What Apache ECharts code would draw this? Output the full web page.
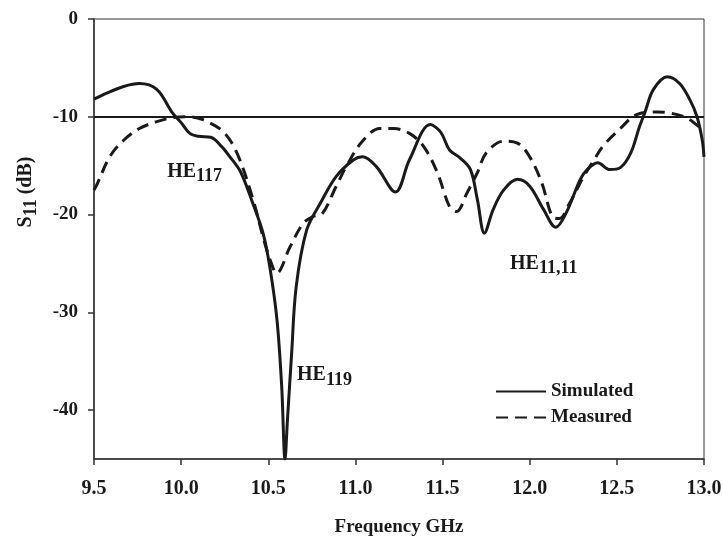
<!DOCTYPE html>
<html>
<head>
<meta charset="utf-8">
<script src="https://cdn.jsdelivr.net/npm/echarts@6/dist/echarts.min.js"></script>
<style>
  html, body { margin: 0; padding: 0; background: #fff; }
  #chart { width: 723px; height: 539px; }
</style>
</head>
<body>
<div id="chart"></div>
<script>
// values
const freqSim = [9.50, 9.57, 9.67, 9.76, 9.86, 9.95, 10.00, 10.05, 10.10, 10.17, 10.23, 10.28, 10.34, 10.41, 10.47, 10.51, 10.55, 10.577, 10.596, 10.61, 10.634, 10.66, 10.72, 10.80, 10.89, 10.99, 11.04, 11.12, 11.23, 11.31, 11.43, 11.49, 11.54, 11.60, 11.66, 11.70, 11.74, 11.79, 11.85, 11.93, 12.00, 12.08, 12.15, 12.21, 12.29, 12.33, 12.39, 12.46, 12.52, 12.58, 12.63, 12.66, 12.71, 12.79, 12.86, 12.92, 12.96, 12.99, 13.00];
const s11Sim = [-8.2, -7.6, -6.9, -6.6, -7.2, -9.6, -10.6, -11.7, -12.0, -12.1, -13.0, -14.1, -15.6, -18.8, -21.9, -25.5, -30.8, -37.6, -45, -41, -34.2, -27.4, -21.6, -18.8, -16.1, -14.4, -14.1, -15.1, -17.7, -14.4, -10.8, -11.6, -13.4, -14.2, -15.4, -18.5, -21.9, -19.5, -17.5, -16.4, -17.1, -19.5, -21.3, -19.8, -16.4, -15.4, -14.7, -15.4, -15.2, -13.7, -11.0, -9.6, -7.2, -5.9, -6.6, -8.3, -10.0, -12.4, -14.1];

const freqMeas = [9.50, 9.52, 9.59, 9.67, 9.76, 9.86, 9.95, 10.05, 10.125, 10.24, 10.32, 10.41, 10.47, 10.51, 10.548, 10.625, 10.70, 10.757, 10.81, 10.89, 10.95, 11.04, 11.14, 11.22, 11.31, 11.39, 11.47, 11.54, 11.58, 11.64, 11.70, 11.75, 11.85, 11.93, 12.00, 12.07, 12.13, 12.17, 12.23, 12.31, 12.37, 12.42, 12.52, 12.61, 12.73, 12.80, 12.90, 12.97, 13.00];
const s11Meas = [-17.5, -16.8, -14.1, -12.4, -11.2, -10.5, -10.1, -10.0, -10.3, -11.5, -13.7, -18.3, -22.3, -24.6, -26.0, -23.3, -20.9, -20.2, -19.9, -17.1, -15.0, -12.5, -11.2, -11.2, -11.7, -13.0, -15.7, -19.2, -19.7, -17.8, -15.7, -13.7, -12.5, -12.7, -14.1, -16.8, -20.2, -20.4, -18.8, -16.1, -14.4, -13.0, -11.2, -9.8, -9.5, -9.6, -10.1, -11.0, -11.3];

const yTicks = [0, -10, -20, -30, -40];
const threshold = -10;

// mode labels: [main, subscript, freq, dB]
const modeLabels = [
  ['HE', '117', 9.92, -15.6],
  ['HE', '119', 10.665, -36.4],
  ['HE', '11,11', 11.887, -25.0]
];

const FONT = '"Liberation Serif", "Times New Roman", serif';
const INK = '#1a1a1a';
const AXIS = '#333';

const chart = echarts.init(document.getElementById('chart'));

const zip = (xs, ys) => xs.map((x, i) => [x, ys[i]]);

const option = {
  animation: false,
  grid: {
    left: 94, right: 19, top: 19, bottom: 80,
    outerBoundsMode: 'none',
    show: true, borderColor: AXIS, borderWidth: 1
  },
  legend: {
    orient: 'vertical',
    left: 490, top: 377,
    itemWidth: 50, itemHeight: 14, itemGap: 7,
    itemStyle: { opacity: 0 },
    textStyle: { fontFamily: FONT, fontWeight: 'bold', fontSize: 19, color: INK },
    data: ['Simulated', 'Measured']
  },
  xAxis: {
    type: 'value',
    min: 9.5, max: 13, interval: 0.5,
    name: 'Frequency GHz',
    nameLocation: 'middle',
    nameGap: 59,
    nameTextStyle: { fontFamily: FONT, fontWeight: 'bold', fontSize: 19, color: INK },
    axisLine: { onZero: false, lineStyle: { color: AXIS, width: 1.5 } },
    axisTick: { show: true, length: 6, lineStyle: { color: AXIS, width: 1.5 } },
    axisLabel: {
      margin: 20,
      formatter: v => v.toFixed(1),
      fontFamily: FONT, fontWeight: 'bold', fontSize: 20, color: INK
    },
    splitLine: { show: false }
  },
  yAxis: {
    type: 'value',
    min: -45, max: 0,
    axisLine: { show: true, onZero: false, lineStyle: { color: AXIS, width: 1.5 } },
    axisTick: { show: true, length: 6, customValues: yTicks, lineStyle: { color: AXIS, width: 1.5 } },
    axisLabel: {
      customValues: yTicks,
      margin: 16,
      fontFamily: FONT, fontWeight: 'bold', fontSize: 19, color: INK
    },
    splitLine: { show: false }
  },
  series: [
    {
      name: 'Simulated',
      type: 'line',
      data: zip(freqSim, s11Sim),
      symbol: 'none',
      smooth: 0.35,
      lineStyle: { color: INK, width: 3 },
      itemStyle: { color: INK },
      markLine: {
        silent: true,
        symbol: 'none',
        label: { show: false },
        lineStyle: { color: INK, width: 2, type: 'solid' },
        data: [{ yAxis: threshold }]
      }
    },
    {
      name: 'Measured',
      type: 'line',
      data: zip(freqMeas, s11Meas),
      symbol: 'none',
      smooth: 0.35,
      lineStyle: { color: INK, width: 3, type: [12, 7] },
      itemStyle: { color: INK }
    }
  ]
};

chart.setOption(option);

// text annotations placed at data coordinates
const richText = {
  m: { fontFamily: FONT, fontWeight: 'bold', fontSize: 20, fill: INK },
  s: { fontFamily: FONT, fontWeight: 'bold', fontSize: 18, fill: INK, padding: [10, 0, 0, 0] }
};
const graphics = modeLabels.map(([main, sub, f, db]) => {
  const p = chart.convertToPixel({ gridIndex: 0 }, [f, db]);
  return {
    type: 'text',
    x: p[0], y: p[1],
    style: {
      text: '{m|' + main + '}{s|' + sub + '}',
      rich: richText,
      verticalAlign: 'middle',
      fill: INK
    }
  };
});
graphics.push({
  type: 'text',
  x: 26, y: 192,
  rotation: Math.PI / 2,
  style: {
    text: '{m|S}{s|11}{m| (dB)}',
    rich: richText,
    align: 'center',
    verticalAlign: 'middle',
    fill: INK
  }
});
chart.setOption({ graphic: graphics });
</script>
</body>
</html>
